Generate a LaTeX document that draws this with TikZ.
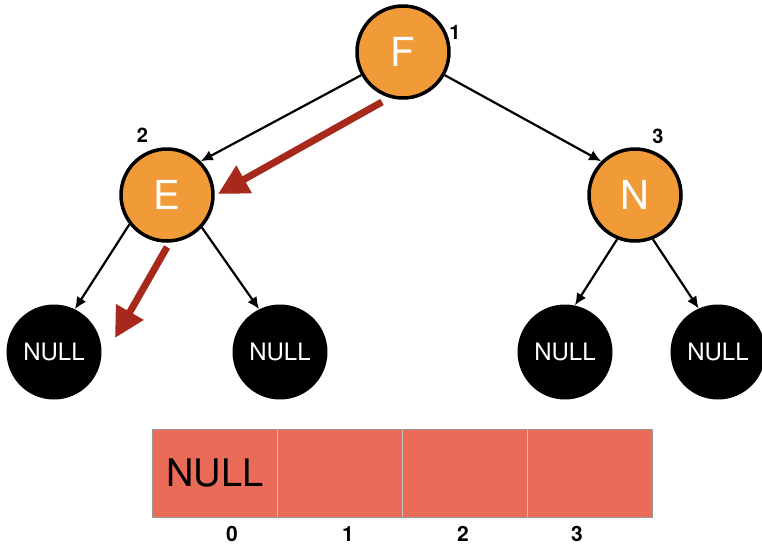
\documentclass[tikz,border=0pt]{standalone}
\usepackage{fontspec}
\setmainfont{TeX Gyre Heros}
\usetikzlibrary{arrows.meta}
\definecolor{nodeorange}{HTML}{F09A38}
\definecolor{arrred}{HTML}{A7291B}
\definecolor{cellred}{HTML}{EA6B57}
\begin{document}
\begin{tikzpicture}[x=1pt,y=-1pt,
  tnode/.style={circle,draw=black,line width=3.5pt,fill=nodeorange,minimum size=92pt,inner sep=0pt,text=white,font=\fontsize{40}{44}\selectfont},
  nullnode/.style={circle,fill=black,minimum size=95pt,inner sep=0pt,text=white,font=\fontsize{24}{28}\selectfont},
  idx/.style={font=\fontsize{20}{24}\selectfont\bfseries},
  cidx/.style={font=\fontsize{21}{24}\selectfont\bfseries},
  edge/.style={line width=2.2pt,-{Latex[length=12pt,width=11pt]}},
  redarr/.style={draw=arrred,line width=7pt,-{Triangle[length=30pt,width=30pt]},arrred},
  cell/.style={rectangle,fill=cellred,minimum width=125pt,minimum height=88pt,inner sep=0pt,anchor=north west}
]
\useasboundingbox (0,0) rectangle (762,550);

\node[tnode] (F) at (403,52) {F};
\node[tnode] (E) at (167,195) {E};
\node[tnode] (N) at (635,195) {N};
\node[nullnode] (n1) at (54,352) {NULL};
\node[nullnode] (n2) at (280,352) {NULL};
\node[nullnode] (n3) at (565,352) {NULL};
\node[nullnode] (n4) at (718,352) {NULL};

\node[idx] (l1) at (455,32) {1};
\node[idx] (l2) at (142.5,135.5) {2};
\node[idx] (l3) at (658,136) {3};

\draw[edge] (F.209) -- (E.45);
\draw[edge] (F.331) -- (N.135);
\draw[edge] (E.218) -- (n1.64);
\draw[edge] (E.317) -- (n2.116);
\draw[edge] (N.248) -- (n3.78);
\draw[edge] (N.292) -- (n4.114);

\coordinate (r1s) at (382,102);
\coordinate (r1e) at (218,194);
\coordinate (r2s) at (167,247);
\coordinate (r2e) at (115,338);
\draw[redarr] (r1s) -- (r1e);
\draw[redarr] (r2s) -- (r2e);

\node[cell] (c0) at (152,429) {};
\node[cell] (c1) at (277,429) {};
\node[cell] (c2) at (402,429) {};
\node[cell] (c3) at (527,429) {};
\draw[gray!45,line width=0.8pt] (c0.north east) -- (c0.south east);
\draw[gray!45,line width=0.8pt] (c1.north east) -- (c1.south east);
\draw[gray!45,line width=0.8pt] (c2.north east) -- (c2.south east);
\draw[gray!80,line width=0.8pt] (c0.north west) rectangle (c3.south east);
\node[font=\fontsize{38}{42}\selectfont] (nulltxt) at (c0.center) {NULL};

\node[cidx] (i0) at (232,534) {0};
\node[cidx] (i1) at (348,534) {1};
\node[cidx] (i2) at (463,534) {2};
\node[cidx] (i3) at (577,534) {3};
\end{tikzpicture}
\end{document}
